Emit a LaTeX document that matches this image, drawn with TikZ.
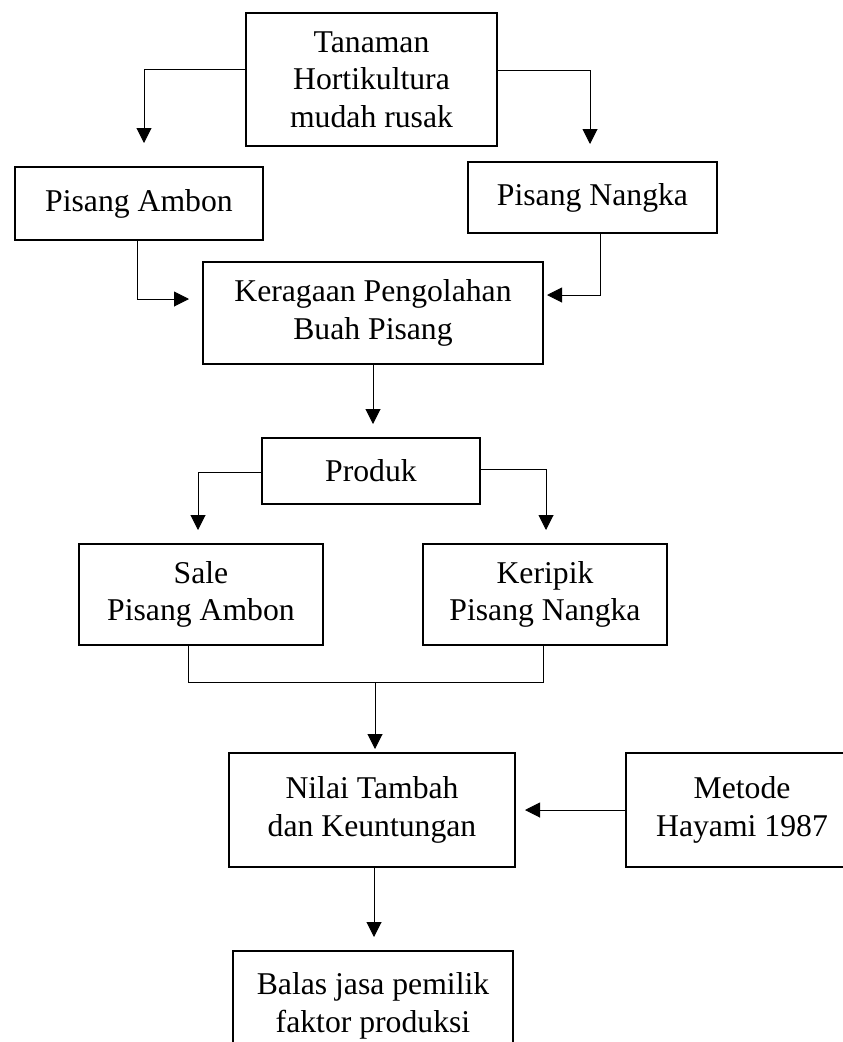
\documentclass[tikz,border=0pt]{standalone}
\usepackage{fontspec}
\setmainfont{Liberation Serif}
\usetikzlibrary{arrows.meta}
\begin{document}
\begin{tikzpicture}[x=1pt,y=-1pt,
  box/.style={draw, line width=2.2pt, align=center, inner sep=0pt, font=\fontsize{31.7}{37.5}\selectfont},
  conn/.style={line width=1pt},
  arr/.style={conn, -{Triangle[length=15pt,width=15pt]}}]
\useasboundingbox (0,0) rectangle (843,1042);
\clip (0,0) rectangle (843,1042);
\fill[white] (0,0) rectangle (843,1042);

\node[box, minimum width=251pt, minimum height=133pt] (tan) at (371.5,79.5) {Tanaman\\Hortikultura\\mudah rusak};
\node[box, minimum width=248pt, minimum height=73pt] (amb) at (139,203.5) {Pisang Ambon};
\node[box, minimum width=249pt, minimum height=71pt] (nan) at (592.5,197.5) {Pisang Nangka};
\node[box, minimum width=340pt, minimum height=102pt] (ker) at (373,313) {Keragaan Pengolahan\\Buah Pisang};
\node[box, minimum width=218pt, minimum height=66pt] (pro) at (371,471) {Produk};
\node[box, minimum width=244pt, minimum height=101pt] (sal) at (201,594.5) {Sale\\Pisang Ambon};
\node[box, minimum width=244pt, minimum height=101pt] (kri) at (545,594.5) {Keripik\\Pisang Nangka};
\node[box, minimum width=286pt, minimum height=114pt] (nil) at (372,810) {Nilai Tambah\\dan Keuntungan};
\node[box, minimum width=232pt, minimum height=114pt] (met) at (742,810) {Metode\\Hayami 1987};
\node[box, minimum width=280pt, minimum height=110pt] (bal) at (373,1006) {Balas jasa pemilik\\faktor produksi};

\coordinate (t1a) at (144,69);
\coordinate (t1) at (144,143);
\draw[arr] (tan.west |- t1a) -- (t1a) -- (t1);
\coordinate (t2a) at (590,70);
\coordinate (t2) at (590,144);
\draw[arr] (tan.east |- t2a) -- (t2a) -- (t2);

\coordinate (p1a) at (137,299);
\coordinate (p1) at (189,299);
\draw[arr] (amb.south -| p1a) -- (p1a) -- (p1);
\coordinate (p2a) at (600,295);
\coordinate (p2) at (547,295);
\draw[arr] (nan.south -| p2a) -- (p2a) -- (p2);

\coordinate (k1) at (373,424);
\draw[arr] (ker.south -| k1) -- (k1);

\coordinate (q1a) at (198,472);
\coordinate (q1) at (198,530);
\draw[arr] (pro.west |- q1a) -- (q1a) -- (q1);
\coordinate (q2a) at (546,469);
\coordinate (q2) at (546,530);
\draw[arr] (pro.east |- q2a) -- (q2a) -- (q2);

\coordinate (b1) at (188,682);
\coordinate (b2) at (543,682);
\draw[conn] (sal.south -| b1) -- (b1) -- (b2) -- (kri.south -| b2);
\coordinate (b3) at (375,682);
\coordinate (n1) at (375,749);
\draw[arr] (b3) -- (n1);

\coordinate (m1) at (525,810);
\draw[arr] (met.west) -- (m1);

\coordinate (n2) at (374,937);
\draw[arr] (nil.south -| n2) -- (n2);
\end{tikzpicture}
\end{document}
